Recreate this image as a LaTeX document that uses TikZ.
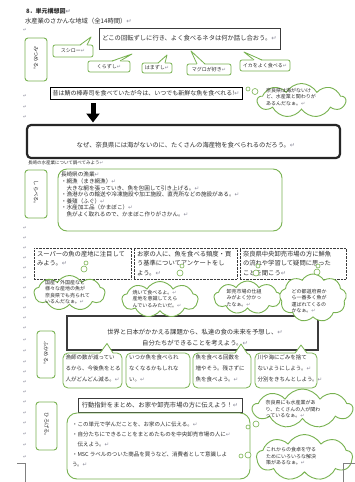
\documentclass[tikz,border=0pt]{standalone}
\usepackage{fontspec}
\setmainfont{Noto Sans CJK JP}
\newfontfamily\dejavu{DejaVu Sans}
\usetikzlibrary{shapes.symbols,arrows.meta,calc}
\definecolor{grn}{RGB}{120,178,80}
\definecolor{dk}{RGB}{60,60,60}
\definecolor{mk}{RGB}{140,140,155}
\definecolor{tx}{RGB}{45,45,45}
\newcommand\rt{{\dejavu\color{mk}\char"21B5}}
\newcommand\sptail[4]{%
  \fill[white] ($(#2,0 |- #1.north)+(0,1)$) -- (#4) -- ($(#3,0 |- #1.north)+(0,1)$) -- cycle;
  \draw[grn, line width=0.8pt, line join=round] (#2,0 |- #1.north) -- (#4) -- (#3,0 |- #1.north);}
\begin{document}
\begin{tikzpicture}[x=1pt,y=-1pt,
  every node/.style={inner sep=0pt, outer sep=0pt, text=tx},
  fA/.style={font=\fontsize{6.3}{10}\selectfont},
  fB/.style={font=\fontsize{5.5}{11}\selectfont},
  fC/.style={font=\fontsize{5}{6.2}\selectfont},
  fD/.style={font=\fontsize{5.6}{6.6}\selectfont},
  lbl/.style={draw=grn, line width=0.9pt, rounded corners=3pt, fill=white, rotate=-90, font=\fontsize{5.3}{5.3}\selectfont},
  bub/.style={draw=grn, line width=0.8pt, rounded corners=2pt, fill=white, fC},
  sbox/.style={draw=grn, line width=0.8pt, rounded corners=5pt, fill=white},
  gbig/.style={draw=grn, line width=0.9pt, rounded corners=9pt, fill=white},
  dbox/.style={draw=dk, line width=0.6pt, dash pattern=on 0.7pt off 0.7pt, fill=white},
  cld/.style={cloud, cloud puffs=9, cloud puff arc=120, cloud ignores aspect, draw=grn, line width=0.9pt, fill=white},
  tc/.style={circle, draw=grn, line width=0.6pt, fill=white},
  pmk/.style={font=\fontsize{4.5}{4.5}\selectfont},
  txt/.style={anchor=north west, align=left},
]
\fill[white] (0,0) rectangle (355,482);
\useasboundingbox (0,0) rectangle (355,482);

% header
\node[anchor=west, font=\bfseries\fontsize{6}{6}\selectfont] (title) at (26,11) {8．単元構想図\rt};
\node[anchor=west, fA] (sub) at (25,21) {水産業のさかんな地域（全14時間）\rt};
\node[pmk] (m0) at (25,30) {\rt};

% mitsumeru
\node[draw=dk, line width=1pt, fill=white, minimum width=181, minimum height=21, fA] (doko) at (189.5,38.5) {どこの回転ずしに行き、よく食べるネタは何か話し合おう。\rt};
\node[lbl, minimum width=43, minimum height=22] (L1) at (36,59.5) {みつめる。};
\node[bub, minimum width=40, minimum height=12] (b1) at (73,51) {スシロー\rt};
\node[bub, minimum width=42, minimum height=11] (b2) at (109,66.5) {くらずし\rt};
\node[bub, minimum width=30, minimum height=10] (b3) at (157,68) {はまずし\rt};
\node[bub, minimum width=44, minimum height=11] (b4) at (209,69.5) {マグロが好き\rt};
\node[bub, minimum width=50, minimum height=11] (b5) at (265,65.5) {イカをよく食べる\rt};
\coordinate (t1) at (91,37);
\coordinate (t2) at (132,54);
\coordinate (t3) at (167,55);
\coordinate (t4) at (191,51);
\coordinate (t5) at (244,52);
\sptail{b1}{80}{87}{t1}
\sptail{b2}{112}{120}{t2}
\sptail{b3}{158}{165}{t3}
\sptail{b4}{197}{205}{t4}
\sptail{b5}{254}{262}{t5}

\node[draw=black, line width=0.7pt, fill=white, minimum width=192, minimum height=12, font=\fontsize{6}{6}\selectfont] (muk) at (146,93) {昔は鯖の棒寿司を食べていたが今は、いつでも新鮮な魚を食べれる!\rt};
\node[cld, minimum width=88, minimum height=34] (c0) at (301.5,100.5) {};
\node[tc, minimum size=4] (c0a) at (248,89) {};
\node[tc, minimum size=6] (c0b) at (255,91.5) {};
\node[fC, align=left] (c0t) at (291,97) {奈良県は海がないけ\\ど、水産業と関わりが\\あるんだなぁ。\rt};

% big question
\node[draw=black!85, line width=2.2pt, rounded corners=4pt, fill=white, minimum width=313, minimum height=33] (naze) at (183.5,141.5) {};
\node[fA] (nazet) at (186,145) {なぜ、奈良県には海がないのに、たくさんの海産物を食べられるのだろう。\rt};
\coordinate (arrS) at ($(muk.south west)+(43,0)$);
\draw[line width=5pt, -{Triangle[width=13pt,length=9pt]}, shorten <=4pt, shorten >=2.5pt] (arrS) -- (arrS |- naze.north);

% shiraberu
\node[anchor=west, font=\fontsize{4.5}{4.5}\selectfont] (naga) at (28,163) {長崎の水産業について調べてみよう\rt};
\node[lbl, minimum width=48, minimum height=22] (L2) at (36,194) {しらべる。};
\node[gbig, minimum width=224, minimum height=62] (g1) at (170,200) {};
\node[fD, txt] (g1t) at (61,172.2) {長崎県の漁業\rt\\・網漁（まき網漁）\rt\\　大きな網を張っていき、魚を包囲して引き上げる。\rt\\・漁港からの輸送や冷凍施設や加工施設、直売所などの施設がある。\rt\\・養殖（ふぐ）\rt\\・水産加工品（かまぼこ）\rt\\　魚がよく取れるので、かまぼこ作りがさかん。\rt};

\node[dbox, minimum width=97, minimum height=31] (d1) at (82.5,263.5) {};
\node[dbox, minimum width=103, minimum height=31] (d2) at (185.5,263.5) {};
\node[dbox, minimum width=106, minimum height=31] (d3) at (293,263.5) {};
\node[txt, font=\fontsize{6.3}{9.6}\selectfont] (d1t) at (37,250.8) {スーパーの魚の産地に注目して\\みよう。\rt};
\node[txt, font=\fontsize{6.3}{9.6}\selectfont] (d2t) at (137,250.8) {お家の人に、魚を食べる頻度・買\\う基準についてアンケートをし\\よう。\rt};
\node[txt, font=\fontsize{6.3}{9.6}\selectfont] (d3t) at (243,250.8) {奈良県中央卸売市場の方に鮮魚\\の流れや学習して疑問に思った\\ことを聞こう\rt};

% fukameru box (under clouds)
\node[draw=dk, line width=1.6pt, fill=white, minimum width=251, minimum height=34] (sekai) at (192.5,333) {};
\node[align=center, font=\fontsize{6.3}{11}\selectfont] (sekait) at (195,337.5) {世界と日本がかかえる課題から、私達の食の未来を予想し、\rt\\自分たちができることを考えよう。\rt};

% clouds row
\node[cld, minimum width=71, minimum height=35] (c1) at (69.5,293) {};
\node[cld, minimum width=76, minimum height=36] (c2) at (160,299.5) {};
\node[cld, minimum width=67, minimum height=33] (c3) at (247.5,297.5) {};
\node[cld, minimum width=67, minimum height=48] (c4) at (313,298) {};
\node[tc, minimum size=4] (c1a) at (86,263) {};
\node[tc, minimum size=6] (c1b) at (84,269) {};
\node[tc, minimum size=4] (c2a) at (182,266) {};
\node[tc, minimum size=6] (c2b) at (180,273) {};
\node[tc, minimum size=4] (c3a) at (258,266) {};
\node[tc, minimum size=6] (c3b) at (256,273) {};
\node[tc, minimum size=4] (c4a) at (318,266) {};
\node[tc, minimum size=6] (c4b) at (317,272) {};
\node[fC, align=left] (c1t) at (67.5,292) {国産・外国産など\\様々な産地の魚が\\奈良県でも売られて\\いるんだなぁ。\rt};
\node[fC, align=left] (c2t) at (157,299) {焼いて食べるよ。\rt\\産地を意識してえら\\んでいるみたいだ。\rt};
\node[fC, align=left] (c3t) at (244,298) {卸売市場の仕組\\みがよく分かっ\\たなぁ。\rt};
\node[fC, align=left] (c4t) at (309,301) {どの都道府県か\\ら一番多く魚が\\運ばれてくるの\\かなぁ。\rt};

% fukameru
\node[lbl, minimum width=47, minimum height=18] (L3) at (46,354.5) {ふかめる。};
\node[sbox, minimum width=59, minimum height=35] (s1) at (92.5,370.5) {};
\node[sbox, minimum width=64, minimum height=35] (s2) at (158,370.5) {};
\node[sbox, minimum width=58, minimum height=35] (s3) at (222,370.5) {};
\node[sbox, minimum width=62, minimum height=35] (s4) at (286,370.5) {};
\coordinate (u1) at (107,343.5);
\coordinate (u3) at (241,344);
\coordinate (u4) at (301,345);
\sptail{s1}{100}{113}{u1}
\sptail{s3}{235}{247}{u3}
\sptail{s4}{295}{307}{u4}
\node[fB, txt] (s1t) at (65.5,355.3) {漁師の数が減ってい\\るから、今後魚をとる\\人がどんどん減る。\rt};
\node[fB, txt] (s2t) at (129,355.3) {いつか魚を食べられ\\なくなるかもしれな\\い。\rt};
\node[fB, txt] (s3t) at (195.5,355.3) {魚を食べる回数を\\増やそう。残さずに\\魚を食べよう。\rt};
\node[fB, txt] (s4t) at (257.5,355.3) {川や海にごみを捨て\\ないようにしよう。\rt\\分別をきちんとしよう。\rt};

% hirogeru
\node[draw=dk, line width=1pt, fill=white, minimum width=164, minimum height=14, fA] (kodo) at (160,405) {行動指針をまとめ、お家や卸売市場の方に伝えよう！\rt};
\node[lbl, minimum width=48, minimum height=21] (L4) at (46.5,426) {ひろげる。};
\node[gbig, rounded corners=10pt, minimum width=183, minimum height=66] (g2) at (158.5,446) {};
\node[txt, font=\fontsize{5.5}{10}\selectfont] (g2t) at (72,422.3) {・この単元で学んだことを、お家の人に伝える。\rt\\・自分たちにできることをまとめたものを中央卸売市場の人に\rt\\　伝えよう。\rt\\・MSC ラベルのついた商品を買うなど、消費者として意識しよ\\う。\rt};
\node[cld, minimum width=100, minimum height=39] (c5) at (302.5,408.5) {};
\node[cld, minimum width=96, minimum height=46] (c6) at (304.5,457.5) {};
\node[tc, minimum size=4] (c5a) at (248,427) {};
\node[tc, minimum size=6] (c5b) at (256,424) {};
\node[tc, minimum size=4] (c6a) at (241,456) {};
\node[tc, minimum size=6] (c6b) at (248,455) {};
\node[align=left, font=\fontsize{5}{6.5}\selectfont] (c5t) at (293,409.5) {奈良県にも水産業があ\\り、たくさんの人が関わ\\っているなぁ。\rt};
\node[align=left, font=\fontsize{5}{6.5}\selectfont] (c6t) at (291,456.5) {これからの食卓を守る\\ためにいろいろな解決\\策があるなぁ。\rt};

% margin paragraph marks
\foreach \yy [count=\i] in {96,107,117,228,238,248,258,268,278,288,298,308,318,328,340,351,362,372,382,392,402,413,423,434,445,457}
  \node[pmk] (pm\i) at (25,\yy) {\rt};

% page corner marks
\draw[gray, line width=0.6pt] (17,463) -- (25,463) -- (25,482);
\draw[gray, line width=0.6pt] (355,463) -- (343,463) -- (343,482);
\end{tikzpicture}
\end{document}
